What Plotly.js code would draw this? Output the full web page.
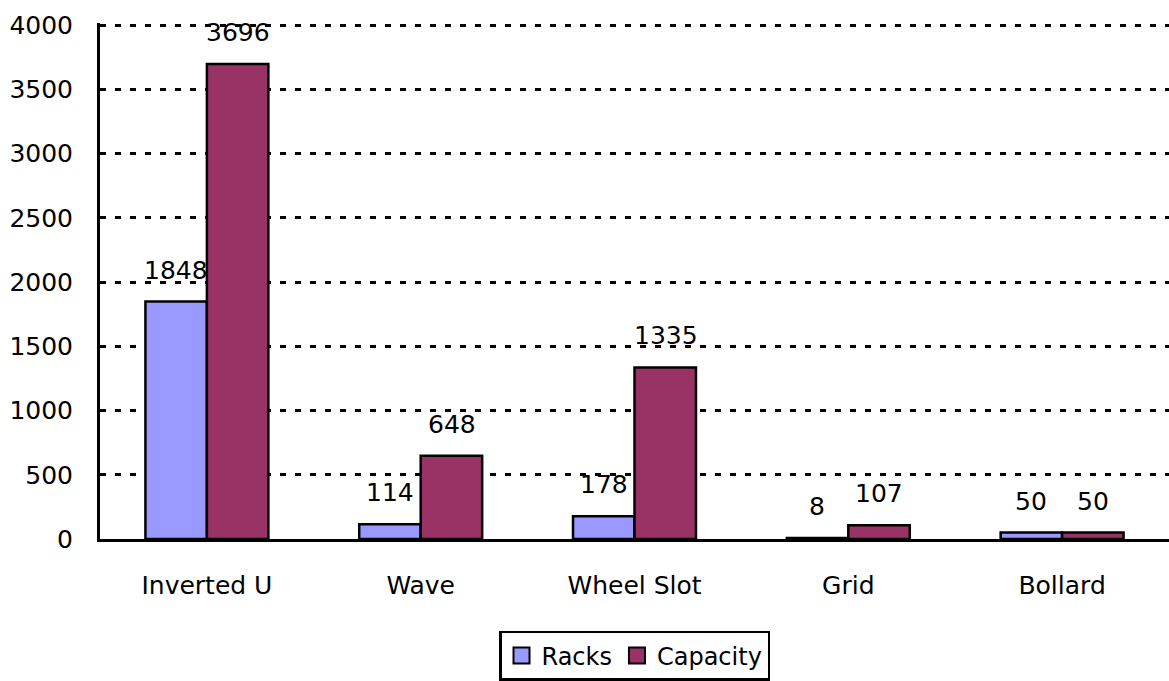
<!DOCTYPE html>
<html><head><meta charset="utf-8">
<script src="https://cdn.plot.ly/plotly-3.0.1.min.js"></script>
<style>html,body{margin:0;padding:0;background:#fff;overflow:hidden}#chart{width:1169px;height:681px}</style>
</head><body><div id="chart"></div>
<script>
const categories = ["Inverted U", "Wave", "Wheel Slot", "Grid", "Bollard"];
const racks = [1848, 114, 178, 8, 50];
const capacity = [3696, 648, 1335, 107, 50];
const yTicks = [0, 500, 1000, 1500, 2000, 2500, 3000, 3500, 4000];

const FONT = "DejaVu Sans";
const traces = [
  {type: "bar", name: "Racks", x: categories, y: racks,
   marker: {color: "#9999FF", line: {color: "#000", width: 2.5}}},
  {type: "bar", name: "Capacity", x: categories, y: capacity,
   marker: {color: "#993366", line: {color: "#000", width: 2.5}}}
];
const annotations = [];
categories.forEach((c, i) => {
  annotations.push({x: c, y: racks[i], xref: "x", yref: "y", text: String(racks[i]),
    showarrow: false, xshift: -31, yshift: 15, yanchor: "bottom", font: {family: FONT, size: 25, color: "#000"}});
  annotations.push({x: c, y: capacity[i], xref: "x", yref: "y", text: String(capacity[i]),
    showarrow: false, xshift: 31, yshift: 15, yanchor: "bottom", font: {family: FONT, size: 25, color: "#000"}});
});
const layout = {
  width: 1169, height: 681,
  margin: {l: 100, r: 0, t: 23, b: 140},
  paper_bgcolor: "#fff", plot_bgcolor: "#fff",
  font: {family: FONT, size: 25, color: "#000"},
  barmode: "group", bargap: 0.425, bargroupgap: 0,
  showlegend: true,
  legend: {orientation: "h", x: 0.5, xanchor: "center", y: -0.178, yanchor: "top",
    bordercolor: "#000", borderwidth: 2.5, font: {family: FONT, size: 24},
    traceorder: "normal", itemwidth: 30},
  xaxis: {type: "category", showline: true, linecolor: "#000", linewidth: 3,
    ticks: "", showgrid: false, tickfont: {family: FONT, size: 25}, ticklabelstandoff: 22},
  yaxis: {range: [0, 4016], tickvals: yTicks, showline: true, linecolor: "#000", linewidth: 3,
    ticks: "", showgrid: true, gridcolor: "#000", gridwidth: 3, griddash: "6px,9px",
    zeroline: false, tickfont: {family: FONT, size: 25}, ticklabelstandoff: 19},
  annotations: annotations
};
Plotly.newPlot("chart", traces, layout, {displayModeBar: false, staticPlot: true}).then(gd => {
  gd.querySelectorAll(".legendpoints path").forEach(p => {
    p.setAttribute("d", "M8,8H-8V-8H8Z");
    p.style.strokeWidth = "2px";
  });
});
</script></body></html>
